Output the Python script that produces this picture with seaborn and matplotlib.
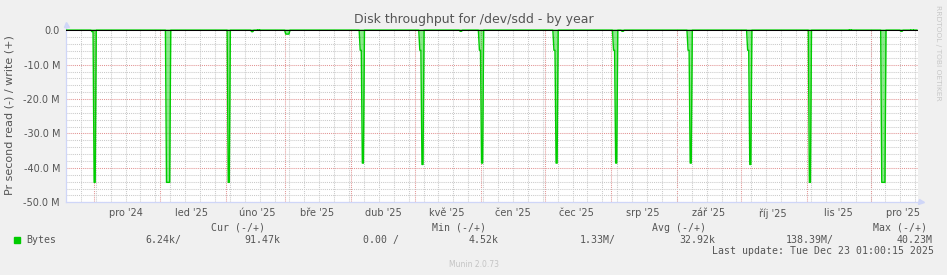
import numpy as np
import pandas as pd
import matplotlib
matplotlib.use("Agg")
import matplotlib.pyplot as plt
from matplotlib.patches import Rectangle
import seaborn as sns

# ---------------- data (values in M bytes/s; read drawn negative, write positive) ----------------
read_dates = ['2024-11-30', '2024-12-01', '2025-01-04', '2025-01-05', '2025-02-02',
              '2025-02-13', '2025-03-01', '2025-03-02', '2025-04-05', '2025-04-06',
              '2025-05-03', '2025-05-04', '2025-05-22', '2025-05-31', '2025-06-01',
              '2025-07-05', '2025-07-06', '2025-08-02', '2025-08-03', '2025-08-06',
              '2025-09-06', '2025-09-07', '2025-10-04', '2025-10-05', '2025-11-02',
              '2025-12-06', '2025-12-07', '2025-12-15']
read_mb = [-0.4, -44.2, -44.2, -44.2, -44.2,
           -0.4, -1.1, -1.1, -5.8, -38.6,
           -5.8, -39.0, -0.3, -5.8, -38.6,
           -5.8, -38.6, -5.8, -38.6, -0.3,
           -5.8, -38.6, -5.8, -39.0, -44.2,
           -44.2, -44.2, -0.3]
write_dates = ['2025-02-16', '2025-11-21', '2025-12-20']
write_mb = [0.4, 0.4, 0.7]

month_labels = ["pro '24", "led '25", "úno '25", "bře '25", "dub '25", "kvě '25",
                "čen '25", "čec '25", "srp '25", "zář '25", "říj '25", "lis '25", "pro '25"]
y_ticks = [0, -10, -20, -30, -40, -50]
y_labels = ['0.0', '-10.0 M', '-20.0 M', '-30.0 M', '-40.0 M', '-50.0 M']

legend_headers = ['Cur (-/+)', 'Min (-/+)', 'Avg (-/+)', 'Max (-/+)']
legend_values = ['6.24k/', '91.47k', '0.00 /', '4.52k', '1.33M/', '32.92k', '138.39M/', '40.23M']

title = 'Disk throughput for /dev/sdd - by year'
ylabel = 'Pr second read (-) / write (+)'
last_update = 'Last update: Tue Dec 23 01:00:15 2025'

t_start = pd.Timestamp('2024-11-18 01:00:15')
t_end = pd.Timestamp('2025-12-23 01:00:15')

# ---------------- build daily series ----------------
days = pd.date_range('2024-11-18', '2025-12-22', freq='D')
read = pd.Series(0.0, index=days)
read.loc[pd.to_datetime(read_dates)] = read_mb
write = pd.Series(0.0, index=days)
write.loc[pd.to_datetime(write_dates)] = write_mb

def expand(s, name):
    t = np.column_stack([(s.index + pd.Timedelta(hours=6)).values,
                         (s.index + pd.Timedelta(hours=18)).values]).ravel()
    v = np.repeat(s.values, 2)
    return pd.DataFrame({'time': t, 'value': v, 'series': name})

df_read = expand(read, 'read')
df_write = expand(write, 'write')
df = pd.concat([df_read, df_write], ignore_index=True)

# ---------------- figure ----------------
W, H = 947, 275
BG = '#F0F0F0'
TXT = '#555555'
GREEN = '#00CC00'
AXC = '#CFD6F8'
MINOR = '#CACACA'
MAJOR = '#E29494'
fig = plt.figure(figsize=(W / 100, H / 100), dpi=100, facecolor=BG)
plt.rcParams['font.family'] = ['DejaVu Sans']

L, R, T, B = 66, 917.5, 28.5, 202.3
ax = fig.add_axes([L / W, 1 - B / H, (R - L) / W, (B - T) / H])
ax.set_facecolor('white')

# grids
ax.set_xlim(t_start, t_end)
ax.set_ylim(-50, 0.52)
for m in pd.date_range('2024-11-25', '2025-12-22', freq='W-MON'):
    ax.axvline(m, color=MINOR, lw=0.75, ls=(0, (1, 1)), zorder=0, snap=True)
for m in pd.date_range('2024-12-01', '2025-12-01', freq='MS'):
    ax.axvline(m, color=MAJOR, lw=0.75, ls=(0, (1, 1)), zorder=0.5, snap=True)
ax.set_yticks(y_ticks)
ax.set_yticklabels(y_labels)
ax.set_yticks([v for v in range(-50, 1, 2) if v % 10 != 0], minor=True)
ax.grid(which='major', axis='y', color=MAJOR, lw=0.75, ls=(0, (1, 1)), snap=True)
ax.grid(which='minor', axis='y', color=MINOR, lw=0.75, ls=(0, (1, 1)), snap=True)
ax.set_axisbelow(True)

# data
ax.fill_between(df_read['time'], df_read['value'], 0, color=GREEN, alpha=0.45, lw=0, zorder=2)
sns.lineplot(data=df, x='time', y='value', hue='series', units='series', estimator=None,
             palette={'read': GREEN, 'write': GREEN}, lw=1.0, legend=False, ax=ax, zorder=3)
ax.axhline(0, color='black', lw=0.75, zorder=4)

# x labels at mid-month
mids = pd.date_range('2024-12-01', '2025-12-01', freq='MS') + pd.Timedelta(days=15)
ax.set_xticks(mids)
ax.set_xticklabels(month_labels)
ax.tick_params(axis='both', which='both', length=0, labelsize=7, labelcolor=TXT)
ax.tick_params(axis='x', pad=4.2)
ax.tick_params(axis='y', pad=4.3)
ax.set_xlabel('')
ax.set_ylabel('')

for s in ['top', 'right']:
    ax.spines[s].set_visible(False)
for s in ['left', 'bottom']:
    ax.spines[s].set_color(AXC)
    ax.spines[s].set_linewidth(0.9)
ax.plot([0, 0], [1, 1.025], color=AXC, lw=0.9, transform=ax.transAxes, clip_on=False)
ax.plot([0], [1.028], marker='^', ms=3.6, color=AXC, transform=ax.transAxes, clip_on=False)
ax.plot([1, 1.003], [0, 0], color=AXC, lw=0.9, transform=ax.transAxes, clip_on=False)
ax.plot([1.004], [0], marker='>', ms=3.6, color=AXC, transform=ax.transAxes, clip_on=False)

# texts
def fx(x):
    return x / W

def fy(y):
    return 1 - y / H

fig.text(fx(473.5), fy(22.7), title, ha='center', va='baseline', fontsize=9, color=TXT)
fig.text(fx(10), fy(115.4), ylabel, ha='center', va='center', rotation=90, fontsize=8, color=TXT)
fig.text(fx(938.3), fy(5), 'RRDTOOL / TOBI OETIKER', ha='center', va='top', rotation=270,
         fontsize=5.4, color='#C8C8C8')
fig.text(fx(473.5), fy(264.3), 'Munin 2.0.73', ha='center', va='center', fontsize=5.5, color='#C4C4C4')

mono = dict(family='DejaVu Sans Mono', fontsize=7.1, color=TXT, va='baseline', ha='left')
for txt, x in zip(legend_headers, [211, 431.7, 652.3, 873.3]):
    fig.text(fx(x), fy(231), txt, **mono)
fig.text(fx(26.3), fy(243), 'Bytes', **mono)
for txt, x in zip(legend_values, [145, 244.3, 362.7, 468.3, 580, 679, 785.7, 896.7]):
    fig.text(fx(x), fy(243), txt, **mono)
fig.text(fx(711.7), fy(254.5), last_update, **mono)
fig.patches.append(Rectangle((fx(14), fy(243)), 6 / W, 6 / H, transform=fig.transFigure,
                             color=GREEN, figure=fig))

fig.savefig('out.png', dpi=100, facecolor=BG)
